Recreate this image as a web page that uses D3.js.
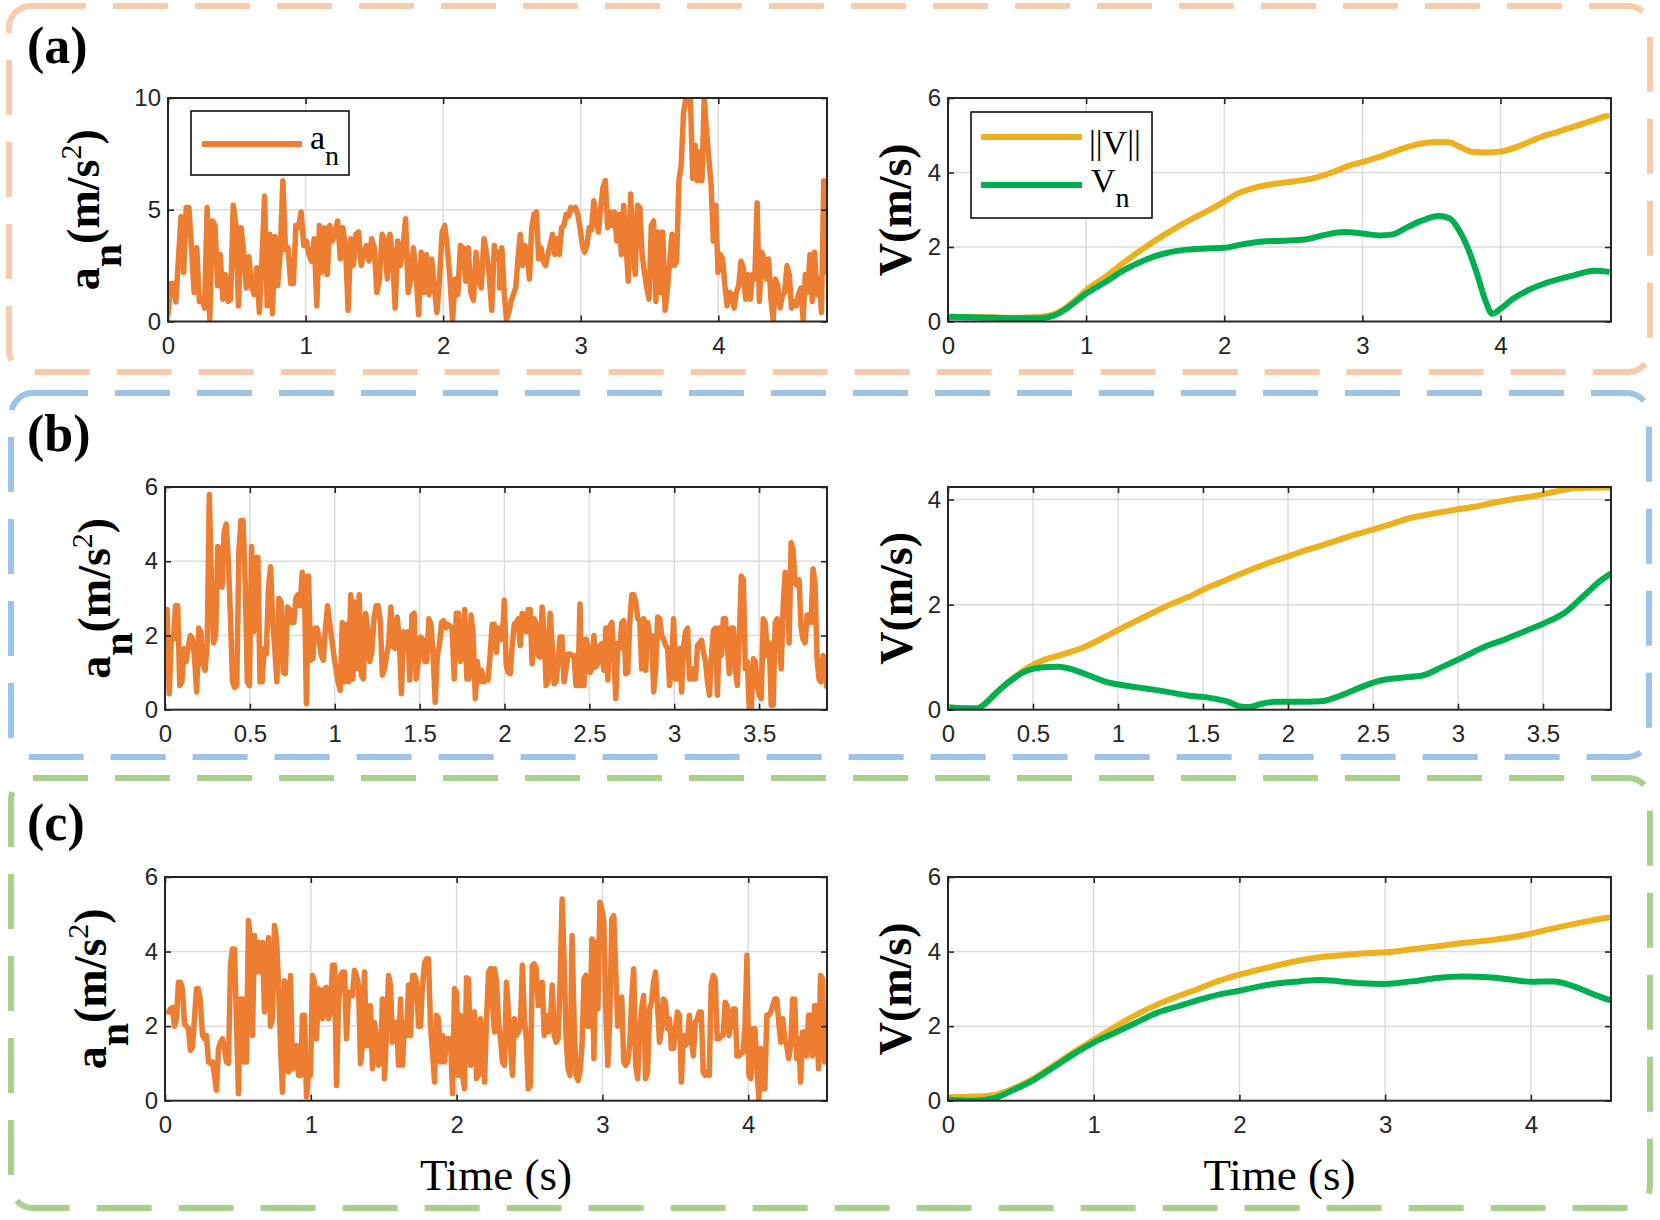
<!DOCTYPE html>
<html><head><meta charset="utf-8">
<script src="https://cdn.jsdelivr.net/npm/d3@7"></script>
<style>html,body{margin:0;padding:0;background:#fff;}svg{display:block;}</style>
</head><body>
<svg id="chart" width="1660" height="1220"></svg>
<script>
// ---------------- DATA ----------------
const panelNames = ["(a)", "(b)", "(c)"];
const timeMaxLeft = [4.79, 3.90, 4.54];
const timeMaxRight = [4.80, 3.90, 4.55];
const xTicksA = [0, 1, 2, 3, 4];
const xTicksB = [0, 0.5, 1, 1.5, 2, 2.5, 3, 3.5];
const xTicksC = [0, 1, 2, 3, 4];
const accYMax = [10, 6, 6];
const accYTicksA = [0, 5, 10];
const accYTicksB = [0, 2, 4, 6];
const accYTicksC = [0, 2, 4, 6];
const velYMax = [6, 4.24, 6];
const velYTicksA = [0, 2, 4, 6];
const velYTicksB = [0, 2, 4];
const velYTicksC = [0, 2, 4, 6];

// acceleration a_n (m/s^2); each panel in two sampled segments, span = [start, split, end] time (s)
const accA_span = [0, 2.41, 4.80];
const accA_1 = [0.27,1.7,1.7,0.87,2.8,4.7,2.2,5.1,5.1,3.3,1.3,3.3,0.9,1.0,0.6,5.1,0.1,4.5,4.3,1.6,3.0,1.0,2.1,0.9,1.0,5.2,4.3,0.7,4.2,3.1,1.5,2.9,1.6,1.2,2.4,0.4,2.8,5.6,0.7,3.9,0.35,3.8,1.6,3.1,6.3,3.2,3.3,1.7,1.7,4.3,4.2,4.9,3.4,3.6,3.0,2.7,3.7,0.7,4.3,2.2,4.2,2.1,4.3,3.6,4.0,4.5,2.8,4.2,3.3,0.5,3.7,2.5,3.9,4.0,2.5,3.1,3.4,2.7,3.7,3.3,1.3,1.9,3.9,3.7,1.9,3.9,3.0,0.6,3.6,2.5,3.3,4.6,1.3,1.9,3.3,2.2,0.3,3.1,1.3,3.0,1.2,2.8,1.5,0.4,1.9,4.0,4.3,3.3,1.9,0.05,1.9,1.2,3.4,3.3,1.8,3.3,1.3,0.95,3.1,1.9,1.5,3.7,3.1,2.1,0.5,3.4,2.8,3.1];
const accA_2 = [1.5,3.3,1.3,0.1,0.4,0.9,1.2,1.5,2.8,3.9,2.5,3.4,3.1,1.9,4.2,4.8,4.9,2.8,3.3,2.7,2.5,3.0,3.4,3.9,3.0,3.7,3.0,4.2,4.3,4.8,4.7,5.1,5.0,5.1,4.8,4.2,3.4,3.1,3.4,4.2,4.1,5.4,4.6,4.0,5.1,6.0,6.3,4.2,4.9,4.3,4.9,3.6,4.8,3.0,5.2,3.4,1.8,5.7,3.4,2.1,5.2,5.1,3.0,2.2,1.5,1.0,4.3,4.5,0.9,4.0,1.3,4.0,0.5,1.5,2.7,3.9,2.5,2.7,6.3,7.0,9.3,10,10,10,6.4,7.9,6.3,7.6,6.3,10,8.5,7.3,6.1,3.6,5.2,2.2,3.0,2.8,1.6,0.7,1.3,1.2,0.6,1.3,1.6,2.7,2.4,1.0,2.1,1.0,2.1,1.9,5.3,0.9,3.1,2.8,1.9,2.8,1.0,0.05,1.9,1.6,0.6,1.2,1.3,2.5,2.1,0.6,0.9,0.7,1.2,1.5,0.1,2.1,1.3,3.0,0.9,3.1,1.2,1.9,0.4,6.3,2.2,3.9];
const accB_span = [0, 1.94, 3.90];
const accB_1 = [2.7,2.7,0.43,1.9,1.9,2.8,2.8,0.65,0.75,1.65,1.3,1.7,2.0,1.9,1.4,0.48,2.2,2.1,1.2,1.06,1.8,5.8,3.4,1.8,2.0,4.4,4.3,3.3,4.8,5.0,4.0,2.5,0.75,0.6,0.65,4.3,5.1,5.1,3.4,0.75,0.65,4.4,2.1,4.1,4.1,0.75,0.75,1.65,1.5,3.3,3.85,2.4,1.65,0.75,3.0,2.9,1.0,0.97,2.77,2.7,2.35,2.35,3.0,3.1,2.8,3.7,3.5,0.16,3.6,1.33,1.37,2.2,2.2,1.9,1.46,1.33,2.2,2.8,2.35,1.9,1.46,1.1,0.75,0.52,2.35,0.75,2.3,0.75,3.1,0.83,2.9,1.1,3.1,0.93,0.83,2.6,2.2,1.3,1.55,2.45,2.8,2.8,2.35,0.93,1.1,1.46,1.8,2.77,1.7,1.65,2.5,1.87,0.43,2.1,1.65,2.1,0.8,2.55,2.6,0.83,1.3,1.96,1.9,1.3,1.3,2.45,2.3,1.46,0.2,1.46,1.73,2.35,2.4,2.2,2.3,2.25,2.2,0.83,2.6,2.6,1.3,1.46,2.7,0.83,0.83,2.55,2.0,0.3,1.3,0.75,1.06,0.75,0.83,0.8,1.46,2.3,2.1];
const accB_2 = [2.3,1.55,2.2,1.9,1.9,2.95,1.2,1.0,0.97,1.73,2.3,2.35,2.45,1.73,2.6,2.55,2.1,2.7,2.7,1.24,2.45,2.3,1.46,1.42,2.77,2.1,0.65,0.75,2.6,1.8,0.7,0.75,1.3,1.96,1.96,0.75,1.1,1.5,1.5,1.46,1.46,0.65,0.65,2.85,0.65,0.65,1.9,1.73,1.0,1.1,2.0,1.15,1.24,1.73,1.78,1.06,2.2,0.8,2.25,2.35,1.46,0.3,1.8,1.65,2.35,2.4,0.97,1.0,2.35,3.1,3.1,2.9,2.45,2.4,1.1,2.45,1.06,2.35,2.0,2.0,0.48,1.1,2.5,2.45,2.0,1.9,1.73,1.65,0.65,1.3,2.45,0.83,0.83,1.65,0.48,1.73,2.1,2.2,0.83,0.83,1.1,0.83,1.73,1.8,1.87,1.55,1.3,0.75,0.39,1.46,2.14,2.2,0.39,2.2,1.46,2.45,2.45,1.65,0.97,2.2,2.2,1.1,0.65,2.0,3.6,3.5,1.1,1.3,0.03,0.03,1.37,1.3,0.65,0.39,0.3,2.45,2.35,1.46,1.8,0.12,0.12,2.35,2.45,1.9,1.1,2.8,3.7,3.6,1.8,4.5,4.3,3.4,3.35,3.5,2.2,1.9,1.8,2.55,2.55,2.35,3.8,3.4,1.37,0.83,0.75,1.46,1.3,0.57];
const accC_span = [0.01, 2.26, 4.55];
const accC_1 = [2.42,2.38,2.46,2.5,2.0,2.2,3.18,3.18,3.0,2.06,2.0,1.93,1.35,1.44,2.2,3.0,3.0,2.64,1.75,1.66,1.75,1.04,1.0,1.04,0.68,0.28,1.4,1.57,1.66,1.4,1.04,1.0,3.63,4.07,4.07,2.1,0.19,2.73,2.73,1.04,1.04,4.83,4.34,1.75,4.43,3.45,4.25,3.45,4.25,2.38,3.8,4.38,2.0,2.2,4.7,4.34,3.18,1.48,0.23,3.22,3.1,0.77,3.36,0.86,1.13,1.48,0.68,0.68,2.29,2.29,0.1,0.77,0.68,3.36,3.18,1.66,3.0,2.96,2.2,3.0,3.04,2.2,2.38,3.63,3.63,0.41,2.55,3.36,3.45,3.45,1.66,2.91,2.91,2.82,3.5,3.36,3.1,1.0,1.48,3.45,1.48,1.48,2.55,0.86,2.1,1.66,0.95,1.2,2.73,0.59,1.84,3.36,3.1,1.57,1.66,2.1,0.95,2.73,0.95,2.1,1.75,3.1,1.75,3.36,3.36,3.18,2.0,2.0,3.1,3.7,3.8,3.8,2.0,1.3,0.5,2.29,2.2,1.04,1.75,1.04,1.66,1.66,1.66,0.19,3.0,2.91,0.68,2.29,0.68,0.32,3.3,3.27,0.95,2.29,2.38,0.59,0.68,2.2,1.48,0.5,2.2,3.45,3.54,2.55,1.84];
const accC_2 = [3.54,3.18,2.1,1.66,1.04,0.95,3.18,2.38,1.48,0.68,2.2,1.75,1.84,2.0,3.63,2.2,1.66,0.32,0.41,3.63,3.67,3.54,2.55,2.64,3.18,1.75,2.29,1.84,1.93,3.1,1.75,1.57,1.66,3.27,5.41,3.8,1.66,0.86,0.68,4.43,2.2,0.68,0.54,0.77,1.48,3.27,3.36,2.0,2.0,4.34,1.13,4.25,2.46,5.32,5.14,4.79,2.38,0.95,2.2,4.88,4.96,3.45,2.0,2.2,2.78,1.04,0.95,1.04,1.48,2.73,3.54,0.95,0.59,1.84,2.46,2.82,0.59,0.77,2.46,2.64,3.18,3.45,2.55,1.57,1.93,2.73,2.64,1.93,2.2,1.4,1.4,1.93,2.38,2.29,0.5,1.75,1.48,1.57,2.29,1.66,1.2,2.1,2.2,2.38,2.38,0.77,0.68,0.77,0.68,3.1,3.36,3.27,1.66,1.66,1.75,1.75,2.64,2.55,1.75,2.1,2.46,2.46,1.2,1.2,1.3,1.3,2.0,3.9,0.68,0.59,1.93,1.93,0.86,0.05,1.4,0.32,0.32,2.29,2.29,2.38,2.55,2.73,2.73,2.1,1.57,2.2,1.66,1.48,1.13,1.48,2.73,2.73,1.13,1.66,0.5,1.84,1.84,1.2,2.29,2.29,1.2,2.55,2.55,0.86,3.36,3.27,1.04,2.1,1.66];

// velocity ||V|| and V_n (m/s)
const velA_normT = [0.01,0.29,0.47,0.66,0.77,0.84,0.92,1.0,1.14,1.28,1.43,1.58,1.73,1.87,2.0,2.10,2.21,2.32,2.50,2.65,2.80,2.91,3.0,3.13,3.28,3.42,3.54,3.63,3.70,3.79,3.90,4.0,4.13,4.27,4.42,4.57,4.72,4.79];
const velA_norm = [0.13,0.12,0.10,0.12,0.2,0.34,0.57,0.84,1.2,1.6,2.0,2.36,2.68,2.95,3.22,3.44,3.58,3.67,3.76,3.85,4.03,4.19,4.28,4.43,4.63,4.77,4.82,4.81,4.70,4.56,4.54,4.56,4.70,4.92,5.10,5.28,5.46,5.55];
const velA_nT = [0.01,0.29,0.47,0.68,0.77,0.84,0.92,1.0,1.14,1.28,1.43,1.58,1.73,1.87,2.0,2.13,2.28,2.43,2.58,2.72,2.87,3.0,3.13,3.22,3.33,3.44,3.55,3.63,3.70,3.77,3.83,3.89,3.94,4.0,4.09,4.20,4.35,4.53,4.68,4.79];
const velA_n = [0.13,0.10,0.09,0.09,0.16,0.3,0.52,0.75,1.06,1.39,1.66,1.84,1.93,1.96,1.98,2.07,2.15,2.17,2.2,2.32,2.4,2.36,2.31,2.34,2.54,2.72,2.83,2.77,2.45,1.91,1.28,0.57,0.21,0.34,0.61,0.84,1.06,1.24,1.36,1.33];
const velB_normT = [0.01,0.08,0.17,0.23,0.29,0.38,0.47,0.56,0.68,0.80,0.92,1.05,1.17,1.29,1.41,1.53,1.65,1.77,1.89,2.01,2.13,2.25,2.37,2.49,2.61,2.73,2.85,2.97,3.09,3.21,3.33,3.45,3.57,3.69,3.81,3.90];
const velB_norm = [0.04,0.03,0.03,0.15,0.34,0.59,0.8,0.94,1.06,1.19,1.38,1.6,1.79,1.98,2.14,2.33,2.49,2.65,2.80,2.93,3.06,3.18,3.31,3.42,3.54,3.66,3.73,3.80,3.86,3.94,4.01,4.07,4.15,4.22,4.23,4.23];
const velB_nT = [0.01,0.08,0.17,0.23,0.29,0.38,0.47,0.56,0.65,0.74,0.83,0.92,1.02,1.17,1.29,1.41,1.53,1.65,1.72,1.77,1.83,1.92,2.04,2.19,2.31,2.43,2.55,2.67,2.79,2.91,3.03,3.15,3.27,3.39,3.51,3.63,3.75,3.84,3.90];
const velB_n = [0.04,0.03,0.02,0.15,0.34,0.58,0.75,0.81,0.82,0.76,0.65,0.54,0.47,0.4,0.34,0.27,0.23,0.15,0.06,0.05,0.1,0.15,0.15,0.16,0.27,0.43,0.56,0.61,0.65,0.82,1.0,1.19,1.33,1.49,1.65,1.85,2.2,2.46,2.59];
const velC_normT = [0.01,0.17,0.31,0.45,0.59,0.73,0.87,1.0,1.15,1.29,1.43,1.57,1.71,1.85,2.0,2.13,2.27,2.41,2.55,2.73,2.90,3.0,3.18,3.36,3.53,3.71,3.88,4.0,4.13,4.30,4.44,4.55];
const velC_norm = [0.09,0.11,0.15,0.33,0.6,0.96,1.32,1.63,1.99,2.3,2.57,2.79,2.99,3.2,3.38,3.51,3.64,3.76,3.85,3.91,3.96,3.98,4.06,4.14,4.23,4.30,4.39,4.48,4.6,4.74,4.85,4.92];
const velC_nT = [0.01,0.17,0.31,0.45,0.59,0.73,0.87,1.0,1.15,1.29,1.43,1.57,1.71,1.85,2.0,2.13,2.27,2.41,2.55,2.69,2.83,3.0,3.18,3.36,3.53,3.71,3.88,4.0,4.16,4.30,4.44,4.55];
const velC_n = [0.02,0.0,0.06,0.29,0.56,0.91,1.27,1.56,1.83,2.09,2.35,2.52,2.69,2.84,2.95,3.06,3.15,3.2,3.24,3.2,3.15,3.13,3.2,3.29,3.33,3.31,3.24,3.19,3.2,3.06,2.84,2.69];

// ---------------- STYLE / LAYOUT ----------------
const C_ACC = "#ED7D31", C_NORM = "#EDB120", C_VN = "#00B050";
const AX = "#262626", GRID = "#dcdcdc";
const SANS = "'Liberation Sans', Arial, Helvetica, sans-serif";
const SERIF = "'Liberation Serif', 'Times New Roman', Times, serif";

const layout = [
  {box:[9, 6, 1650, 372], color:"#F8CBAD", labelY:63, top:98, bottom:321.5, lx0:168, accLabelX:99, velLabelX:911},
  {box:[11, 393, 1649, 757], color:"#9DC3E6", labelY:451, top:487, bottom:709.7, lx0:165, accLabelX:110, velLabelX:912},
  {box:[11, 778, 1650, 1208], color:"#A9D18E", labelY:840, top:877, bottom:1100.7, lx0:165, accLabelX:106, velLabelX:911}
];
const LX1 = 827, RX0 = 948, RX1 = 1611;

const svg = d3.select("#chart");
svg.append("rect").attr("width",1660).attr("height",1220).attr("fill","#fff");

const accSets = [
  {span:accA_span, a:accA_1, b:accA_2, yt:accYTicksA, xt:xTicksA},
  {span:accB_span, a:accB_1, b:accB_2, yt:accYTicksB, xt:xTicksB},
  {span:accC_span, a:accC_1, b:accC_2, yt:accYTicksC, xt:xTicksC}
];
const velSets = [
  {nt:velA_normT, nv:velA_norm, vt:velA_nT, vv:velA_n, yt:velYTicksA, xt:xTicksA},
  {nt:velB_normT, nv:velB_norm, vt:velB_nT, vv:velB_n, yt:velYTicksB, xt:xTicksB},
  {nt:velC_normT, nv:velC_norm, vt:velC_nT, vv:velC_n, yt:velYTicksC, xt:xTicksC}
];

function segPoints(vals, t0, t1) {
  const s = d3.scaleLinear().domain([0, vals.length - 1]).range([t0, t1]);
  return vals.map((v, i) => [s(i), v]);
}
const fmt = d3.format("~g");
let clipId = 0;

function drawAxes(x, y, xt, yt) {
  const [x0, x1] = x.range();
  const [y0, y1] = y.range();
  const g = svg.append("g");
  g.selectAll(".gx").data(xt.filter(t => x(t) > x0 + 1 && x(t) < x1 - 1)).enter().append("line")
    .attr("x1", d => x(d)).attr("x2", d => x(d)).attr("y1", y1).attr("y2", y0)
    .attr("stroke", GRID).attr("stroke-width", 1.5);
  g.selectAll(".gy").data(yt.filter(t => y(t) < y0 - 1 && y(t) > y1 + 1)).enter().append("line")
    .attr("y1", d => y(d)).attr("y2", d => y(d)).attr("x1", x0).attr("x2", x1)
    .attr("stroke", GRID).attr("stroke-width", 1.5);
  return g;
}
function drawFrame(x, y, xt, yt) {
  const [x0, x1] = x.range();
  const [y0, y1] = y.range();
  const g = svg.append("g");
  const style = sel => {
    sel.select(".domain").remove();
    sel.selectAll(".tick line").attr("stroke", AX).attr("stroke-width", 1.6);
    sel.selectAll("text").attr("fill", AX).style("font-family", SANS).style("font-size", "24px");
  };
  g.append("g").attr("transform", `translate(0,${y0})`)
    .call(d3.axisBottom(x).tickValues(xt).tickSize(-6).tickPadding(15).tickFormat(fmt)).call(style);
  g.append("g").attr("transform", `translate(0,${y1})`)
    .call(d3.axisTop(x).tickValues(xt).tickSize(-6).tickFormat("")).call(style);
  g.append("g").attr("transform", `translate(${x0},0)`)
    .call(d3.axisLeft(y).tickValues(yt).tickSize(-6).tickPadding(7).tickFormat(fmt)).call(style);
  g.append("g").attr("transform", `translate(${x1},0)`)
    .call(d3.axisRight(y).tickValues(yt).tickSize(-6).tickFormat("")).call(style);
  g.append("rect").attr("x", x0).attr("y", y1).attr("width", x1 - x0).attr("height", y0 - y1)
    .attr("fill", "none").attr("stroke", AX).attr("stroke-width", 2);
}
function clipFor(x, y) {
  const id = "clip" + (clipId++);
  const [x0, x1] = x.range(); const [y0, y1] = y.range();
  svg.append("clipPath").attr("id", id).append("rect")
    .attr("x", x0).attr("y", y1).attr("width", x1 - x0).attr("height", y0 - y1);
  return `url(#${id})`;
}

layout.forEach((L, i) => {
  const [bx0, by0, bx1, by1] = L.box;
  svg.append("rect").attr("x", bx0).attr("y", by0).attr("width", bx1 - bx0).attr("height", by1 - by0)
    .attr("rx", 22).attr("ry", 22).attr("fill", "none").attr("stroke", L.color)
    .attr("stroke-width", 6).attr("stroke-dasharray", "55 27");
  svg.append("text").attr("x", 27).attr("y", L.labelY).text(panelNames[i])
    .style("font-family", SERIF).style("font-weight", "bold").style("font-size", "52px").attr("fill", "#000");

  // ---- left: acceleration ----
  const A = accSets[i];
  const xa = d3.scaleLinear().domain([0, timeMaxLeft[i]]).range([L.lx0, LX1]);
  const ya = d3.scaleLinear().domain([0, accYMax[i]]).range([L.bottom, L.top]);
  drawAxes(xa, ya, A.xt, A.yt);
  const pts = segPoints(A.a, A.span[0], A.span[1]).concat(segPoints(A.b, A.span[1], A.span[2]));
  svg.append("path").datum(pts).attr("clip-path", clipFor(xa, ya))
    .attr("d", d3.line().x(d => xa(d[0])).y(d => ya(d[1])))
    .attr("fill", "none").attr("stroke", C_ACC).attr("stroke-width", 5.5).attr("stroke-linejoin", "round");
  drawFrame(xa, ya, A.xt, A.yt);

  // ---- right: velocity ----
  const V = velSets[i];
  const xv = d3.scaleLinear().domain([0, timeMaxRight[i]]).range([RX0, RX1]);
  const yv = d3.scaleLinear().domain([0, velYMax[i]]).range([L.bottom, L.top]);
  drawAxes(xv, yv, V.xt, V.yt);
  const cp = clipFor(xv, yv);
  const lineV = d3.line().x(d => xv(d[0])).y(d => yv(d[1])).curve(d3.curveMonotoneX);
  svg.append("path").datum(V.nt.map((t, k) => [t, V.nv[k]])).attr("clip-path", cp)
    .attr("d", lineV).attr("fill", "none").attr("stroke", C_NORM).attr("stroke-width", 6);
  svg.append("path").datum(V.vt.map((t, k) => [t, V.vv[k]])).attr("clip-path", cp)
    .attr("d", lineV).attr("fill", "none").attr("stroke", C_VN).attr("stroke-width", 6);
  drawFrame(xv, yv, V.xt, V.yt);

  // ---- y labels ----
  const cy = (L.top + L.bottom) / 2;
  const tA = svg.append("text").attr("transform", `translate(${L.accLabelX},${cy}) rotate(-90)`)
    .attr("text-anchor", "middle").style("font-family", SERIF).style("font-weight", "bold")
    .style("font-size", "46px").attr("fill", "#000");
  tA.append("tspan").text("a");
  tA.append("tspan").attr("dy", 22).style("font-size", "42px").text("n");
  tA.append("tspan").attr("dy", -22).text("(m/s");
  tA.append("tspan").attr("dy", -18).style("font-size", "30px").style("font-weight", "normal").text("2");
  tA.append("tspan").attr("dy", 18).text(")");
  svg.append("text").attr("transform", `translate(${L.velLabelX},${cy}) rotate(-90)`)
    .attr("text-anchor", "middle").style("font-family", SERIF).style("font-weight", "bold")
    .style("font-size", "46px").attr("fill", "#000").text("V(m/s)");

  if (i === 2) {
    [[L.lx0, LX1], [RX0, RX1]].forEach(([a, b]) => {
      svg.append("text").attr("x", (a + b) / 2).attr("y", 1190).attr("text-anchor", "middle")
        .style("font-family", SERIF).style("font-size", "45px").attr("fill", "#000").text("Time (s)");
    });
  }
});

// ---- legends (panel a) ----
(function () {
  const g = svg.append("g");
  g.append("rect").attr("x", 191).attr("y", 111).attr("width", 158).attr("height", 64)
    .attr("fill", "#fff").attr("stroke", "#000").attr("stroke-width", 1.5);
  g.append("line").attr("x1", 202).attr("x2", 302).attr("y1", 144).attr("y2", 144)
    .attr("stroke", C_ACC).attr("stroke-width", 6);
  const t = g.append("text").attr("x", 310).attr("y", 149).style("font-family", SERIF)
    .style("font-size", "34px").attr("fill", "#000");
  t.append("tspan").text("a");
  t.append("tspan").attr("dy", 16).style("font-size", "28px").text("n");

  const g2 = svg.append("g");
  g2.append("rect").attr("x", 971).attr("y", 112).attr("width", 181).attr("height", 106)
    .attr("fill", "#fff").attr("stroke", "#000").attr("stroke-width", 1.5);
  g2.append("line").attr("x1", 981).attr("x2", 1082).attr("y1", 137).attr("y2", 137)
    .attr("stroke", C_NORM).attr("stroke-width", 6);
  g2.append("line").attr("x1", 981).attr("x2", 1082).attr("y1", 185).attr("y2", 185)
    .attr("stroke", C_VN).attr("stroke-width", 6);
  g2.append("text").attr("x", 1089).attr("y", 154).style("font-family", SERIF)
    .style("font-size", "34px").attr("fill", "#000").text("||V||");
  const t2 = g2.append("text").attr("x", 1091).attr("y", 192).style("font-family", SERIF)
    .style("font-size", "34px").attr("fill", "#000");
  t2.append("tspan").text("V");
  t2.append("tspan").attr("dy", 15).style("font-size", "28px").text("n");
})();
</script>
</body></html>
